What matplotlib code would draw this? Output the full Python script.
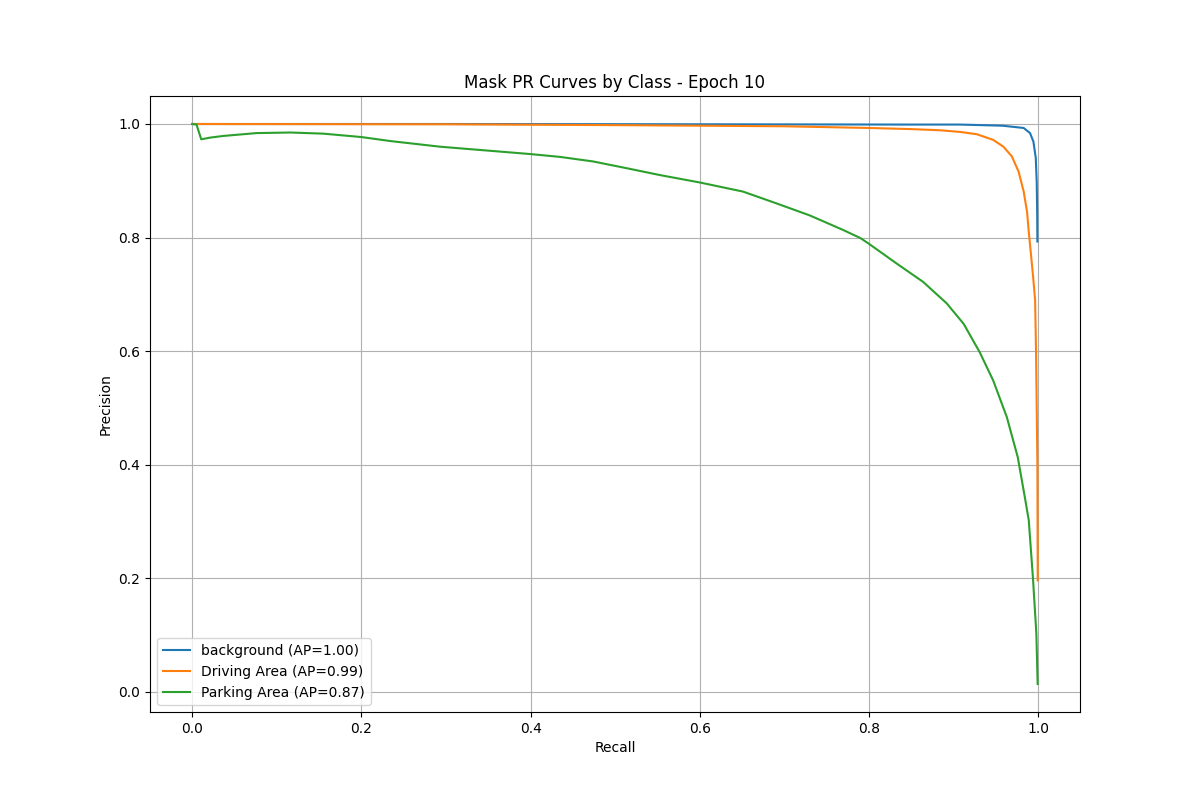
import matplotlib
matplotlib.use("Agg")
import matplotlib.pyplot as plt

# Class names and AP values
class_names = ["background", "Driving Area", "Parking Area"]
ap_values = [1.00, 0.99, 0.87]

# background PR curve
bg_recall = [0.0, 0.3, 0.6, 0.85, 0.908, 0.958, 0.983, 0.9905, 0.9945,
             0.9973, 0.9984, 0.9990, 0.9992]
bg_precision = [1.0, 1.0, 0.9995, 0.999, 0.999, 0.997, 0.993, 0.984, 0.969,
                0.94, 0.898, 0.84, 0.793]

# Driving Area PR curve
drv_recall = [0.0, 0.3, 0.5, 0.7, 0.8, 0.85, 0.884, 0.908, 0.9275, 0.947,
              0.959, 0.969, 0.977, 0.983, 0.987, 0.989, 0.9917, 0.9945,
              0.9965, 0.9976, 0.9992, 0.9996]
drv_precision = [1.0, 0.9995, 0.998, 0.996, 0.993, 0.991, 0.989, 0.986,
                 0.982, 0.972, 0.960, 0.943, 0.916, 0.881, 0.845, 0.81,
                 0.769, 0.725, 0.69, 0.60, 0.402, 0.196]

# Parking Area PR curve
prk_recall = [0.0, 0.005, 0.0106, 0.021, 0.037, 0.076, 0.116, 0.155, 0.2,
              0.234, 0.293, 0.4, 0.435, 0.474, 0.514, 0.553, 0.6, 0.651,
              0.691, 0.730, 0.770, 0.790, 0.8, 0.833, 0.864, 0.892, 0.912,
              0.931, 0.947, 0.963, 0.976, 0.985, 0.989, 0.994, 0.998, 0.9995]
prk_precision = [1.0, 0.999, 0.973, 0.976, 0.979, 0.984, 0.985, 0.983, 0.977,
                 0.970, 0.960, 0.947, 0.942, 0.934, 0.922, 0.910, 0.897,
                 0.881, 0.860, 0.839, 0.813, 0.799, 0.789, 0.754, 0.722,
                 0.684, 0.648, 0.598, 0.548, 0.484, 0.413, 0.337, 0.302,
                 0.199, 0.102, 0.0135]

curves = [(bg_recall, bg_precision), (drv_recall, drv_precision),
          (prk_recall, prk_precision)]

fig, ax = plt.subplots(figsize=(12, 8), dpi=100)
for name, ap, (r, p) in zip(class_names, ap_values, curves):
    ax.plot(r, p, label=f"{name} (AP={ap:.2f})")

ax.set_xlabel("Recall")
ax.set_ylabel("Precision")
ax.set_title("Mask PR Curves by Class - Epoch 10")
ax.grid(True)
ax.legend(loc="lower left")
fig.savefig("out.png")
